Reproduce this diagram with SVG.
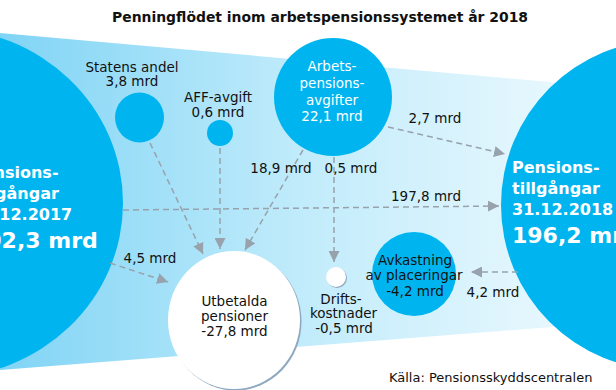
<svg xmlns="http://www.w3.org/2000/svg" width="616" height="390" viewBox="0 0 616 390">
<defs>
<linearGradient id="bandGrad" x1="0" y1="0" x2="616" y2="0" gradientUnits="userSpaceOnUse">
<stop offset="0" stop-color="#80d4f5"/>
<stop offset="0.5" stop-color="#c2ecfb"/>
<stop offset="1" stop-color="#f0fafe"/>
</linearGradient>
<marker id="arrow" markerWidth="11" markerHeight="11" refX="11" refY="5.5" orient="auto" markerUnits="userSpaceOnUse">
<path d="M0,0 L11,5.5 L0,11 z" fill="#97a2ac"/>
</marker>
</defs>
<style>
.blue{fill:#00b5ef}
.white{fill:#ffffff}
.shadow{fill:#8ea8c0}
.lbl{font-family:"DejaVu Sans",Verdana,sans-serif;font-size:13.5px;fill:#111;text-anchor:middle}
.wlbl{font-family:"DejaVu Sans",Verdana,sans-serif;font-size:13.5px;fill:#ffffff;text-anchor:middle}
.big{font-family:"DejaVu Sans",Verdana,sans-serif;font-weight:bold;font-size:16px;fill:#ffffff}
.bignum{font-family:"DejaVu Sans",Verdana,sans-serif;font-weight:bold;font-size:22px;fill:#ffffff}
.conn{fill:none;stroke:#97a2ac;stroke-width:1.5;stroke-dasharray:6 4;marker-end:url(#arrow)}
</style>
<rect width="616" height="390" fill="#ffffff"/>
<text x="320" y="22" font-family="DejaVu Sans,Verdana,sans-serif" font-weight="bold" font-size="13.5" fill="#111" text-anchor="middle" textLength="416" lengthAdjust="spacingAndGlyphs">Penningflödet inom arbetspensionssystemet år 2018</text>
<polygon id="band" points="0,33 616,88 616,322 0,370" fill="url(#bandGrad)"/>

<g id="left-assets">
<ellipse class="blue" cx="-60" cy="203" rx="183" ry="175"/>
<text class="big" x="-29" y="178">Pensions-</text>
<text class="big" x="-29" y="199">tillgångar</text>
<text class="big" x="-29" y="220">31.12.2017</text>
<text class="bignum" x="-29" y="248">202,3 mrd</text>
</g>
<g id="right-assets">
<circle class="blue" cx="666" cy="205" r="165"/>
<text class="big" x="512" y="173">Pensions-</text>
<text class="big" x="512" y="194">tillgångar</text>
<text class="big" x="512" y="215">31.12.2018</text>
<text class="bignum" x="512" y="243">196,2 mrd</text>
</g>

<g id="connectors">
<path class="conn" d="M150,143 L203,254"/>
<path class="conn" d="M220,148 L220,249"/>
<path class="conn" d="M303,150 L245,250"/>
<path class="conn" d="M334,157 L334,262"/>
<path class="conn" d="M388,127 L505,154"/>
<path class="conn" d="M123,210 L499,206"/>
<path class="conn" d="M110,263 L168,282"/>
<path class="conn" d="M518,272 L471,272"/>
</g>

<g id="statens">
<ellipse class="blue" cx="139.5" cy="117.5" rx="24.5" ry="25"/>
<text class="lbl" x="132" y="72">Statens andel</text>
<text class="lbl" x="132" y="86">3,8 mrd</text>
</g>
<g id="aff">
<circle class="blue" cx="220" cy="133" r="13"/>
<text class="lbl" x="218" y="102">AFF-avgift</text>
<text class="lbl" x="218" y="117">0,6 mrd</text>
</g>
<g id="arbets">
<circle class="blue" cx="333" cy="97" r="59"/>
<text class="wlbl" x="332" y="71">Arbets-</text>
<text class="wlbl" x="332" y="88">pensions-</text>
<text class="wlbl" x="332" y="105">avgifter</text>
<text class="wlbl" x="332" y="121">22,1 mrd</text>
</g>
<g id="utbetalda">
<ellipse class="shadow" cx="235.5" cy="321.5" rx="66" ry="69"/>
<ellipse class="white" cx="234" cy="320" rx="66" ry="69"/>
<text class="lbl" x="234.5" y="306">Utbetalda</text>
<text class="lbl" x="234.5" y="321">pensioner</text>
<text class="lbl" x="234.5" y="336">-27,8 mrd</text>
</g>
<g id="drifts">
<circle class="shadow" cx="337" cy="278" r="10"/>
<circle class="white" cx="336" cy="277" r="10"/>
<text class="lbl" x="341" y="304">Drifts-</text>
<text class="lbl" x="343.5" y="318">kostnader</text>
<text class="lbl" x="344" y="333">-0,5 mrd</text>
</g>
<g id="avkastning">
<circle class="blue" cx="414" cy="274" r="42"/>
<text class="lbl" x="415" y="265">Avkastning</text>
<text class="lbl" x="414" y="280">av placeringar</text>
<text class="lbl" x="415" y="296">-4,2 mrd</text>
</g>

<g id="edge-labels">
<text class="lbl" x="281" y="173">18,9 mrd</text>
<text class="lbl" x="351" y="173">0,5 mrd</text>
<text class="lbl" x="435" y="123">2,7 mrd</text>
<text class="lbl" x="426" y="201">197,8 mrd</text>
<text class="lbl" x="150" y="263">4,5 mrd</text>
<text class="lbl" x="493" y="297">4,2 mrd</text>
</g>
<text x="389" y="382" font-family="DejaVu Sans,Verdana,sans-serif" font-size="13" fill="#111">Källa: Pensionsskyddscentralen</text>
</svg>
